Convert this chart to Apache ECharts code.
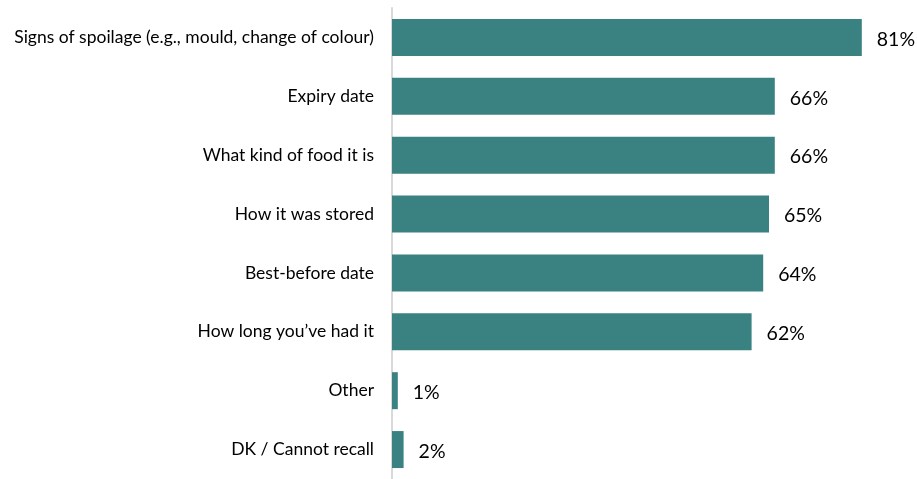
<!DOCTYPE html>
<html>
<head>
<meta charset="utf-8">
<script src="https://cdn.jsdelivr.net/npm/echarts@6/dist/echarts.min.js"></script>
<style>
  html, body { margin: 0; padding: 0; background: #fff; }
  #chart { width: 917px; height: 479px; }
</style>
</head>
<body>
<div id="chart"></div>
<script>
// What people check when deciding whether food is still safe to eat
const categories = [
  'Signs of spoilage (e.g., mould, change of colour)',
  'Expiry date',
  'What kind of food it is',
  'How it was stored',
  'Best-before date',
  'How long you\u2019ve had it',
  'Other',
  'DK / Cannot recall'
];
const shares = [81, 66, 66, 65, 64, 62, 1, 2];

const chart = echarts.init(document.getElementById('chart'));
chart.setOption({
  animation: false,
  grid: { left: 392, top: 8, width: 522, height: 474 },
  xAxis: {
    type: 'value',
    min: 0,
    max: 90,
    show: false
  },
  yAxis: {
    type: 'category',
    data: categories,
    inverse: true,
    axisLine: { show: true, lineStyle: { color: '#d9d9d9', width: 2 } },
    axisTick: { show: false },
    splitLine: { show: false },
    axisLabel: {
      margin: 18,
      color: '#000',
      fontFamily: 'Lato',
      fontSize: 17.5,
      padding: [4, 0, 0, 0]
    }
  },
  series: [{
    type: 'bar',
    data: shares,
    barWidth: 37,
    itemStyle: { color: '#3a8282' },
    label: {
      show: true,
      position: 'right',
      distance: 15,
      offset: [0, 2],
      formatter: '{c}%',
      color: '#000',
      fontFamily: 'Lato',
      fontSize: 19.5
    }
  }]
});
</script>
</body>
</html>
